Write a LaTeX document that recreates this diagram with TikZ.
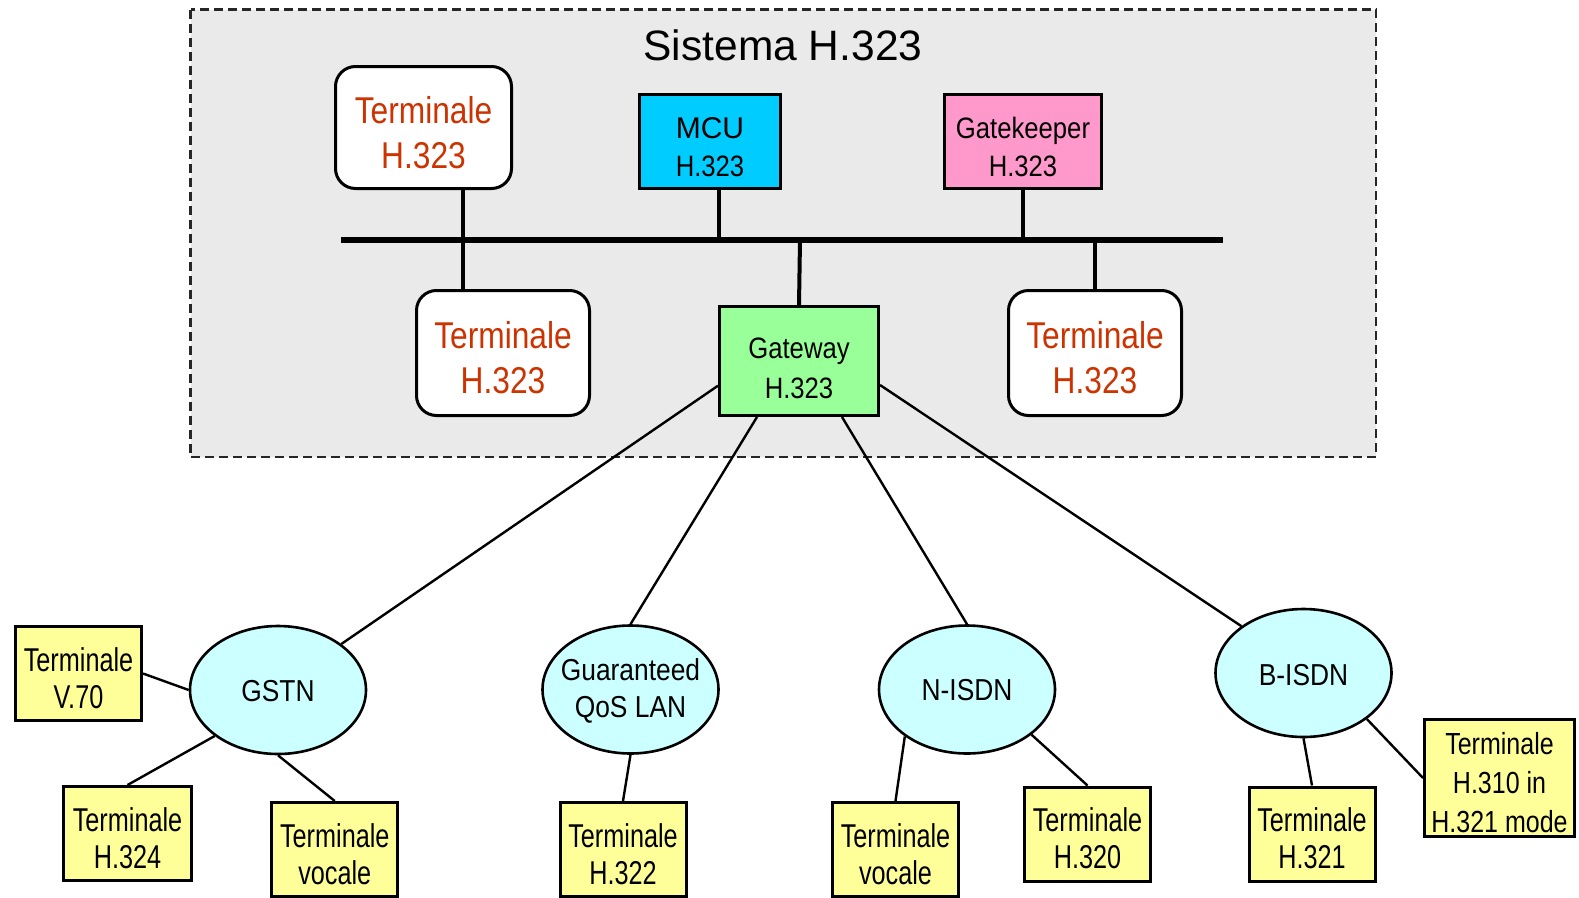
\documentclass[tikz,border=0pt]{standalone}
\usepackage{fontspec}
\setmainfont{Liberation Sans}
\newfontfamily\fmain{Liberation Sans}
\newfontfamily\fya[FakeStretch=0.765]{Liberation Sans}
\newfontfamily\fyb[FakeStretch=0.82]{Liberation Sans}
\newfontfamily\fred[FakeStretch=0.85]{Liberation Sans}
\newfontfamily\fnar[FakeStretch=0.87]{Liberation Sans}
\usetikzlibrary{shapes.geometric,calc}
\definecolor{bggray}{RGB}{234,234,234}
\definecolor{termred}{RGB}{204,51,0}
\definecolor{mcucyan}{RGB}{0,204,255}
\definecolor{gkpink}{RGB}{255,153,204}
\definecolor{gwgreen}{RGB}{153,255,153}
\definecolor{netcyan}{RGB}{204,255,255}
\definecolor{ylwfill}{RGB}{255,255,153}
\newcommand\ltxt[2]{\raisebox{-#1pt}[\height][\depth]{\begin{tabular}{@{}c@{}}#2\end{tabular}}}
\newcommand\etxt[2]{\makebox[0pt]{\ltxt{#1}{#2}}}
\tikzset{
  frame/.style={draw=black!85, line width=2.2pt, dash pattern=on 9pt off 5pt, fill=bggray},
  term/.style={draw, line width=3pt, rounded corners=20pt, fill=white, inner sep=0pt,
    minimum width=173pt, minimum height=125pt, text=termred,
    font=\fred\fontsize{37.3}{45}\selectfont},
  sqbox/.style={draw, line width=3pt, inner sep=0pt, font=\fnar\fontsize{29.5}{38.4}\selectfont},
  net/.style={ellipse, draw, line width=2.6pt, fill=netcyan, inner sep=0pt,
    minimum width=176pt, minimum height=128pt, font=\fnar\fontsize{30.3}{37}\selectfont},
  ylw/.style={draw, line width=3pt, fill=ylwfill, inner sep=0pt,
    minimum width=126pt, minimum height=94pt, font=\fya\fontsize{33}{37}\selectfont},
  bus/.style={line width=5.5pt},
  conn/.style={line width=4pt},
  link/.style={line width=2.4pt},
}
\begin{document}
\begin{tikzpicture}[x=1pt,y=-1pt]
\useasboundingbox (0,0) rectangle (1579,897);
% system frame
\draw[frame] (190.5,9.5) rectangle (1376,457);
\node[font=\fmain\fontsize{42.5}{50}\selectfont] (title) at (783,45) {Sistema H.323};
% bus
\coordinate (busL) at (341,240);
\coordinate (busR) at (1223,240);
\draw[bus] (busL) -- (busR);
% H.323 entities
\node[term, minimum width=176pt, minimum height=122pt] (t1) at (423.5,127.5) {\ltxt{9}{Terminale\\H.323}};
\node[term] (t2) at (503,353) {\ltxt{9}{Terminale\\H.323}};
\node[term] (t3) at (1095,353) {\ltxt{9}{Terminale\\H.323}};
\node[sqbox, fill=mcucyan, minimum width=141pt, minimum height=94pt] (mcu) at (710,141.5)
  {\ltxt{8.5}{{\fmain\fontsize{30}{38.4}\selectfont MCU}\\H.323}};
\node[sqbox, fill=gkpink, minimum width=157pt, minimum height=94pt] (gk) at (1023,141.5)
  {\ltxt{8.5}{Gatekeeper\\H.323}};
\node[sqbox, fill=gwgreen, minimum width=159pt, minimum height=109pt, font=\fnar\fontsize{29.5}{40}\selectfont] (gw) at (799,361)
  {\ltxt{9}{Gateway\\H.323}};
% bus connectors
\coordinate (b1) at (463,240);
\coordinate (b2) at (719,240);
\coordinate (b4) at (800,240);
\draw[conn] (t1.south -| b1) -- (t2.north -| b1);
\draw[conn] (mcu.south -| b2) -- (b2);
\draw[conn] (gk.south) -- (gk.south |- b2);
\draw[conn] (b4) -- (gw.north);
\draw[conn] (t3.north) -- (t3.north |- b2);
% networks
\node[net] (gstn) at (278,690) {\etxt{4}{GSTN}};
\node[net] (qos) at (630.5,689.5) {\etxt{2}{Guaranteed\\QoS LAN}};
\node[net] (nisdn) at (967,689.5) {\etxt{4}{N-ISDN}};
\node[net] (bisdn) at (1303.5,673) {\etxt{5}{B-ISDN}};
% terminals
\node[ylw] (v70) at (78.5,673.5) {\ltxt{9}{Terminale\\V.70}};
\node[ylw, minimum width=128pt] (h324) at (127.5,833.5) {\ltxt{9}{Terminale\\H.324}};
\node[ylw] (gvoc) at (334.75,849.5) {\ltxt{9}{Terminale\\vocale}};
\node[ylw] (h322) at (623,849.5) {\ltxt{9}{Terminale\\H.322}};
\node[ylw] (nvoc) at (895.5,849.5) {\ltxt{9}{Terminale\\vocale}};
\node[ylw] (h320) at (1087.5,834) {\ltxt{9}{Terminale\\H.320}};
\node[ylw] (h321) at (1312,834) {\ltxt{9}{Terminale\\H.321}};
\node[ylw, minimum width=150pt, minimum height=109pt, font=\fyb\fontsize{30.5}{39}\selectfont] (h310) at (1499.5,778)
  {\ltxt{8}{Terminale\\H.310 in\\H.321 mode}};
% gateway links
\draw[link] ($(gw.west)+(0,24.7)$) -- (gstn.36);
\draw[link] ($(gw.south)+(-42,0)$) -- (qos.north);
\draw[link] ($(gw.south)+(43,0)$) -- (nisdn.north);
\draw[link] ($(gw.east)+(0,24)$) -- (bisdn.143.6);
% terminal links
\draw[link] (v70.east) -- (gstn.west);
\draw[link] (h324.north) -- (gstn.-144);
\draw[link] (gvoc.north) -- (gstn.south);
\draw[link] (h322.north) -- (qos.south);
\draw[link] (nvoc.north) -- (nisdn.-143.4);
\draw[link] (h320.north) -- (nisdn.-35.4);
\draw[link] (h321.north) -- (bisdn.south);
\draw[link] (h310.west) -- (bisdn.-36.5);
\end{tikzpicture}
\end{document}
